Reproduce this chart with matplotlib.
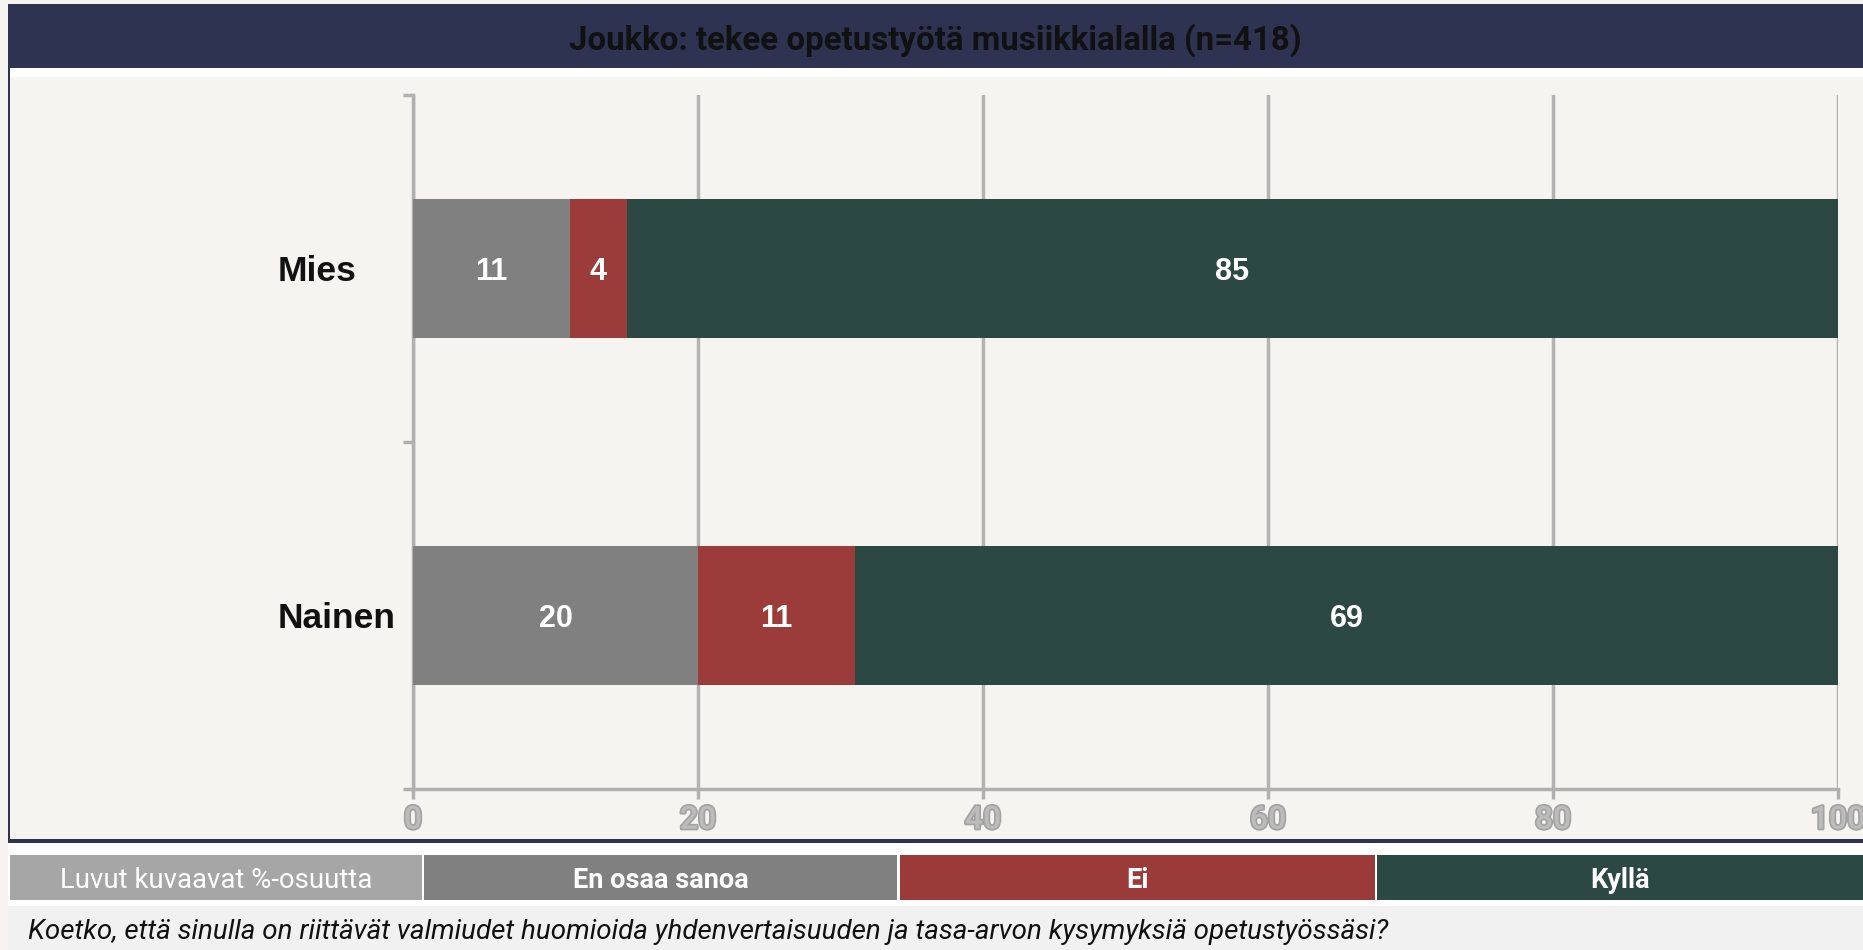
import matplotlib.pyplot as plt
import matplotlib.patheffects as pe
from matplotlib.patches import Rectangle
from matplotlib.transforms import blended_transform_factory
import numpy as np

# data
categories = ["Mies", "Nainen"]
series_names = ["En osaa sanoa", "Ei", "Kyllä"]
en_osaa_sanoa = [11, 20]
ei = [4, 11]
kylla = [85, 69]
xticks = [0, 20, 40, 60, 80, 100]

title = "Joukko: tekee opetustyötä musiikkialalla (n=418)"
note = "Luvut kuvaavat %-osuutta"
question = ("Koetko, että sinulla on riittävät valmiudet huomioida yhdenvertaisuuden "
            "ja tasa-arvon kysymyksiä opetustyössäsi?")

bar_colors = ["#808080", "#9b3b3a", "#2b4842"]
legend_colors = ["#a6a6a6", "#808080", "#9a3b3a", "#2c4842"]
navy = "#2d3350"
bg = "#f5f4f0"

W, H = 1863, 950
fig = plt.figure(figsize=(W / 100, H / 100), dpi=100, facecolor=bg)


def box(x0, y0, x1, y1, color):
    # pixel coords from top-left
    fig.patches.append(Rectangle((x0 / W, 1 - y1 / H), (x1 - x0) / W, (y1 - y0) / H,
                                 transform=fig.transFigure, facecolor=color,
                                 edgecolor="none", zorder=-10))


# panel frame
box(8, 4, W, 68, navy)
box(8, 68, W, 77, "white")
box(8, 77, W, 841, bg)
box(8, 68, 10, 843, navy)
box(8, 839, W, 843, navy)
box(8, 843, W, 906, "white")
box(8, 906, W, H, "#f1f1f1")

renderer = fig.canvas.get_renderer()


def fit(t, width_px):
    w = t.get_window_extent(renderer).width
    t.set_fontsize(t.get_fontsize() * width_px / w)


t = fig.text((8 + W) / 2 / W, 1 - 40 / H, title, ha="center", va="center",
             fontsize=16, fontweight="bold", family="Roboto", color="#111111")
fit(t, 735)

# legend row
edges = [(10, 422), (424, 897), (900, 1375), (1377, 1863)]
labels = [note] + series_names
legend_texts = []
for (x0, x1), c, lab in zip(edges, legend_colors, labels):
    box(x0, 855, x1, 900, c)
    tt = fig.text((x0 + x1) / 2 / W, 1 - 880 / H, lab, ha="center", va="center",
                  fontsize=16, family="Roboto", color="white",
                  fontweight="normal" if lab == note else "bold")
    legend_texts.append(tt)
fit(legend_texts[0], 312)
fit(legend_texts[1], 176)
for tt in legend_texts[2:]:
    tt.set_fontsize(legend_texts[1].get_fontsize())

q = fig.text(28 / W, 1 - 932 / H, question, ha="left", va="center", fontsize=16,
             family="Roboto", style="italic", color="#111111")
fit(q, 1367)

# chart
ax = fig.add_axes([413 / W, 1 - 789 / H, (1838 - 413) / W, (789 - 95) / H])
ax.set_facecolor("none")
y = np.arange(len(categories)) + 0.5
left = np.zeros(len(categories))
for vals, c in zip([en_osaa_sanoa, ei, kylla], bar_colors):
    ax.barh(y, vals, left=left, height=0.4, color=c, zorder=3)
    for yi, l, v in zip(y, left, vals):
        ax.annotate(str(v), (l + v / 2, yi), xytext=(0, -2.2), textcoords="offset points",
                    ha="center", va="center", color="white", fontsize=22,
                    fontweight="bold", family="Liberation Sans", zorder=4)
    left += np.array(vals)

ax.set_xlim(0, 100)
ax.set_ylim(len(categories), 0)
ax.set_xticks(xticks)
ax.set_xticklabels([str(v) for v in xticks], family="Roboto", fontsize=23,
                   fontweight="medium", color="#bcbcbc",
                   path_effects=[pe.withStroke(linewidth=2.5, foreground="#a3a3a3")])
ax.set_yticks(np.arange(len(categories) + 1))
ax.set_yticklabels([])
ax.tick_params(axis="both", color="#b0b0b0", width=2.5, length=7)
ax.tick_params(axis="x", pad=5)
ax.grid(axis="x", color="#b3b3b3", linewidth=2.5, zorder=1)
ax.set_axisbelow(True)
for s in ["top", "right"]:
    ax.spines[s].set_visible(False)
for s in ["left", "bottom"]:
    ax.spines[s].set_color("#b0b0b0")
    ax.spines[s].set_linewidth(2.5)

tr = blended_transform_factory(ax.transAxes, ax.transData)
for yi, cat in zip(y, categories):
    ax.annotate(cat, (-0.0947, yi), xycoords=tr, xytext=(0, -2.5),
                textcoords="offset points", ha="left", va="center", fontsize=25.5,
                fontweight="bold", family="Liberation Sans", color="#111111")

fig.savefig("out.png", dpi=100, facecolor=bg)
